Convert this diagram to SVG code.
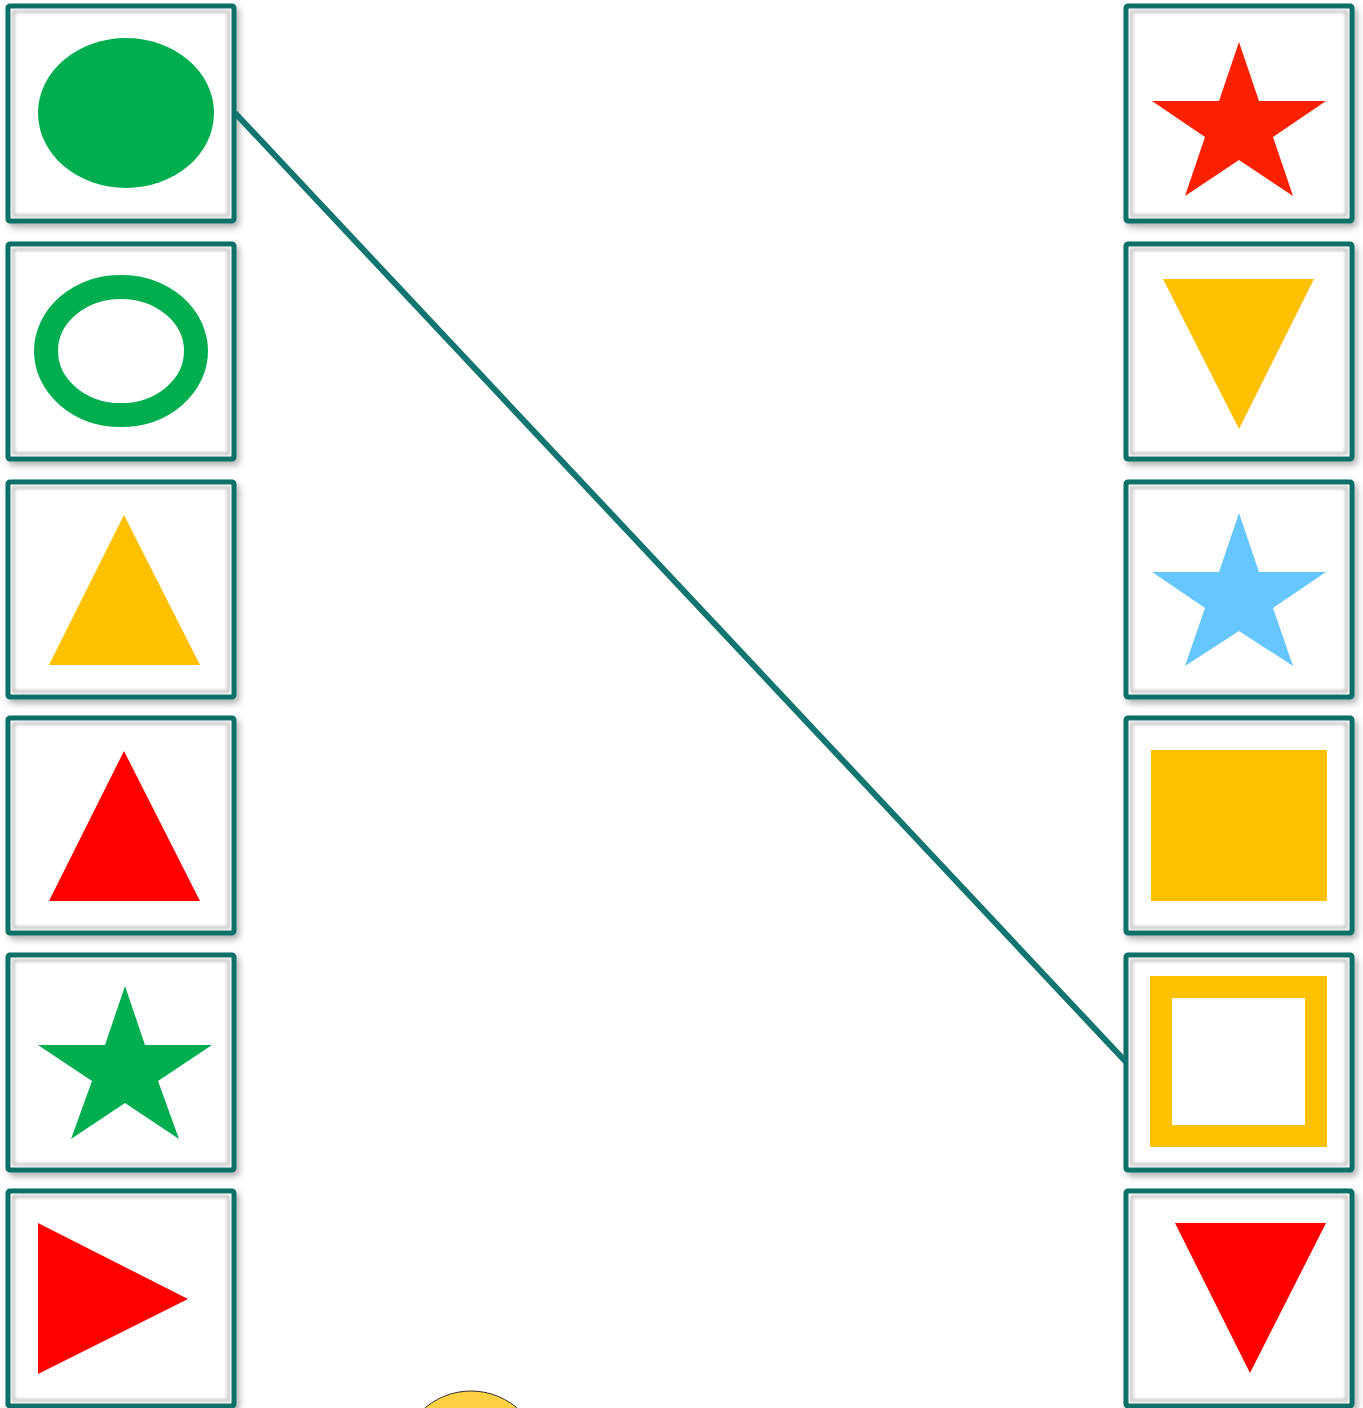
<svg xmlns="http://www.w3.org/2000/svg" width="1363" height="1408" viewBox="0 0 1363 1408">
<style>
.box{fill:#fff;stroke:#0b6f67;stroke-width:5;filter:url(#sh)}
.inner{fill:none;stroke:#c8c8c8;stroke-width:3;filter:url(#bl)}
.conn{stroke:#127570;stroke-width:6;fill:none}
</style>
<defs>
<filter id="sh" x="-10%" y="-10%" width="125%" height="125%"><feDropShadow dx="3" dy="4" stdDeviation="3" flood-color="#000" flood-opacity="0.3"/></filter>
<filter id="bl" x="-10%" y="-10%" width="120%" height="120%"><feGaussianBlur stdDeviation="1.5"/></filter>
<g id="frame"><rect class="box" x="0" y="0" width="226" height="215" rx="2"/><rect class="inner" x="5.5" y="5.5" width="215" height="204"/></g>
</defs>
<rect width="1363" height="1408" fill="#fff"/>
<g id="L1"><use href="#frame" x="8" y="6"/><ellipse cx="126" cy="113" rx="88" ry="75" fill="#00ae4f"/></g>
<g id="L2"><use href="#frame" x="8" y="244"/><ellipse cx="121" cy="351" rx="75" ry="64" fill="none" stroke="#00ae4f" stroke-width="24"/></g>
<g id="L3"><use href="#frame" x="8" y="482"/><polygon points="124,515 49,665 200,665" fill="#ffc000"/></g>
<g id="L4"><use href="#frame" x="8" y="718"/><polygon points="124,751 49,901 200,901" fill="#ff0000"/></g>
<g id="L5"><use href="#frame" x="8" y="955"/><polygon points="125,986 145,1045 212,1045 158,1081 179,1139 125,1103 71,1139 92,1081 38,1045 105,1045" fill="#00ae4f"/></g>
<g id="L6"><use href="#frame" x="8" y="1191"/><polygon points="38,1223 38,1374 188,1299" fill="#ff0000"/></g>
<g id="R1"><use href="#frame" x="1126" y="6"/><polygon points="1239,42 1259,101 1326,101 1273,137 1293,196 1239,160 1185,196 1205,137 1152,101 1219,101" fill="#fa2000"/></g>
<g id="R2"><use href="#frame" x="1126" y="244"/><polygon points="1163,279 1314,279 1239,429" fill="#ffc000"/></g>
<g id="R3"><use href="#frame" x="1126" y="482"/><polygon points="1239,513 1259,572 1326,572 1273,608 1293,666 1239,631 1185,666 1205,608 1152,572 1219,572" fill="#66c6ff"/></g>
<g id="R4"><use href="#frame" x="1126" y="718"/><rect x="1151" y="750" width="176" height="151" fill="#ffc000"/></g>
<g id="R5"><use href="#frame" x="1126" y="955"/><rect x="1161" y="987" width="155" height="149" fill="none" stroke="#ffc000" stroke-width="22"/></g>
<g id="R6"><use href="#frame" x="1126" y="1191"/><polygon points="1175,1223 1326,1223 1250,1373" fill="#ff0000"/></g>
<g id="bottom"><circle cx="471" cy="1462" r="71" fill="#ffd143" stroke="#333" stroke-width="1"/></g>
<g id="connectors"><line class="conn" x1="235" y1="113" x2="1126" y2="1062"/></g>
</svg>
